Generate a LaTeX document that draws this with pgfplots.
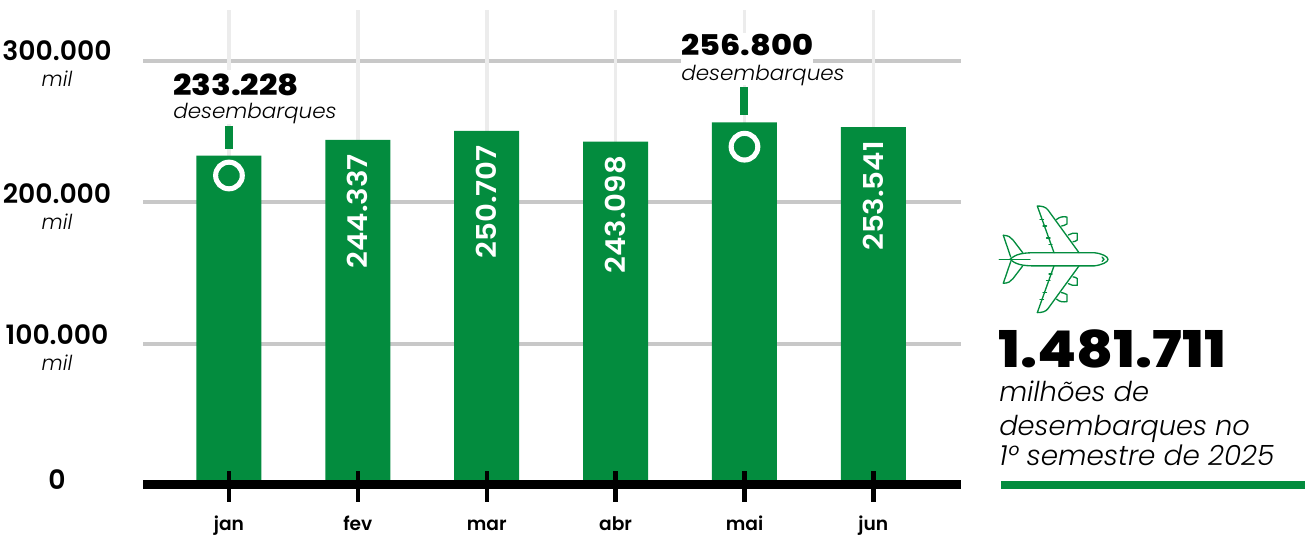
\documentclass[border=0pt]{standalone}
\usepackage{pgfplots}
\pgfplotsset{compat=1.18}
\usepackage{fontspec}
\setmainfont{Poppins}
\newfontfamily\light[ItalicFont={Poppins Light Italic}]{Poppins Light}
\newfontfamily\semi{Poppins SemiBold}
\newfontfamily\semilarga[FakeStretch=1.07]{Poppins SemiBold}
\newfontfamily\forte[FakeStretch=1.12]{Poppins ExtraBold}
\definecolor{verde}{HTML}{038C3E}
\definecolor{gridh}{HTML}{C8C8C8}
\definecolor{gridv}{HTML}{ECECEC}
\newcommand{\num}[1]{{\fontsize{20pt}{22pt}\semi #1}}
\newcommand{\mil}{{\fontsize{15.5pt}{17pt}\selectfont\light\itshape mil}}
\newcommand{\des}{{\fontsize{15.5pt}{17pt}\selectfont\light\addfontfeature{FakeStretch=1.04}\itshape desembarques}}
\begin{document}
\begin{tikzpicture}
\begin{axis}[
  at={(107.25pt,-363.375pt)}, anchor=south west,
  scale only axis, width=613.5pt, height=355.875pt,
  clip=false,
  xmin=-0.667, xmax=5.68, ymin=0, ymax=336525,
  axis x line*=bottom, axis y line=none,
  axis line style={draw=none},
  xtick={0,1,2,3,4,5},
  xticklabels={jan,fev,mar,abr,mai,jun},
  major tick length=0pt,
  xticklabel style={font=\fontsize{14pt}{16pt}\semi, anchor=base, yshift=-34.5pt},
]
% linhas horizontais
\addplot[gridh, line width=3pt] coordinates {(-0.667,100000) (5.68,100000)};
\addplot[gridh, line width=3pt] coordinates {(-0.667,200000) (5.68,200000)};
\addplot[gridh, line width=3pt] coordinates {(-0.667,300000) (5.68,300000)};
% linhas verticais
\addplot[gridv, line width=2.7pt] coordinates {(0,0) (0,336525)};
\addplot[gridv, line width=2.7pt] coordinates {(1,0) (1,336525)};
\addplot[gridv, line width=2.7pt] coordinates {(2,0) (2,336525)};
\addplot[gridv, line width=2.7pt] coordinates {(3,0) (3,336525)};
\addplot[gridv, line width=2.7pt] coordinates {(4,0) (4,336525)};
\addplot[gridv, line width=2.7pt] coordinates {(5,0) (5,336525)};
\addplot[ybar, bar width=48.75pt, fill=verde, draw=none] table {
x y
0 233228
1 244337
2 250707
3 243098
4 256800
5 253541
};
% eixo e marcas
\addplot[black, line width=7pt] coordinates {(-0.667,0) (5.68,0)};
\addplot[black, line width=3.3pt] coordinates {(0,-12400) (0,9450)};
\addplot[black, line width=3.3pt] coordinates {(1,-12400) (1,9450)};
\addplot[black, line width=3.3pt] coordinates {(2,-12400) (2,9450)};
\addplot[black, line width=3.3pt] coordinates {(3,-12400) (3,9450)};
\addplot[black, line width=3.3pt] coordinates {(4,-12400) (4,9450)};
\addplot[black, line width=3.3pt] coordinates {(5,-12400) (5,9450)};
% valores dentro das barras
\addplot[draw=none, nodes near coords, point meta=explicit symbolic,
  every node near coord/.style={rotate=90, anchor=east, xshift=-10.5pt, white,
    font=\fontsize{20.5pt}{22pt}\semilarga, inner sep=0pt}]
  table[meta=label] {
x y label
1 244337 244.337
2 250707 250.707
3 243098 243.098
5 253541 253.541
};
% marcadores jan e mai
\addplot[only marks, mark=o, white, mark size=10pt, line width=3.8pt] coordinates {(0,219149) (4,239574)};
\addplot[verde, line width=6pt] coordinates {(0,237943) (0,254255)};
\addplot[verde, line width=6pt] coordinates {(4,262057) (4,282128)};
\end{axis}
\begin{scope}[x=0.75pt,y=-0.75pt]
% rotulos do eixo y
\node[anchor=base] at (57,61) {\num{300.000}};
\node[anchor=base] at (57,87) {\mil};
\node[anchor=base] at (57,203) {\num{200.000}};
\node[anchor=base] at (57,229) {\mil};
\node[anchor=base] at (57,344) {\num{100.000}};
\node[anchor=base] at (57,370) {\mil};
\node[anchor=base] at (57,489) {\num{0}};
% destaques
\fill[white] (173,70) rectangle (302,98);
\fill[white] (173,98) rectangle (336,124);
\fill[white] (681,33) rectangle (813,64);
\fill[white] (681,64) rectangle (844,85);
\node[anchor=base west, inner sep=0pt] at (173,95) {\fontsize{21.7pt}{23pt}\forte 233.228};
\node[anchor=base west, inner sep=0pt] at (173,118) {\des};
\node[anchor=base west, inner sep=0pt] at (681,56) {\fontsize{21.4pt}{23pt}\forte 256.800};
\node[anchor=base west, inner sep=0pt] at (681,80) {\des};
% total
\node[anchor=base west, inner sep=0pt] at (998,367) {\fontsize{38pt}{40pt}\forte 1.481.711};
\node[anchor=base west, inner sep=0pt] at (999,401) {\fontsize{20.5pt}{22pt}\selectfont\light\itshape milhões de};
\node[anchor=base west, inner sep=0pt] at (999,435) {\fontsize{20.5pt}{22pt}\selectfont\light\itshape desembarques no};
\node[anchor=base west, inner sep=0pt] at (999,465) {\fontsize{20.9pt}{22pt}\selectfont\light\itshape 1° semestre de 2025};
\fill[verde] (1001,481) rectangle (1305,489);
% aviao
\begin{scope}[verde, line width=1pt, line join=round, line cap=round]
\draw (1010,259.3) .. controls (1016,254) and (1022,252.7) .. (1036,252.7) -- (1094,252.7)
  .. controls (1102,253.5) and (1108,256.5) .. (1108,259.3)
  .. controls (1108,262) and (1102,265) .. (1094,265.9) -- (1036,265.9)
  .. controls (1022,265.9) and (1016,264.5) .. (1010,259.3);
\draw (999.3,259.3) -- (1030,259.3);
\draw (1102,257) -- (1104,259.3) -- (1102,261.5);
\foreach \s in {1,-1}{
\begin{scope}[shift={(0,259.3)}, yscale=\s, shift={(0,-259.3)}]
\draw (1054,252.7) -- (1037.3,206) .. controls (1042,206) and (1046,207) .. (1048,210) -- (1079,252.7);
\draw (1056.5,219.5) .. controls (1060,216.5) and (1063,216.5) .. (1067,217) -- (1067,224) .. controls (1065,225.5) and (1063,225.5) .. (1061.5,226);
\draw (1068.3,235) .. controls (1071,233) and (1074,233) .. (1077.3,233.3) -- (1077.3,240) .. controls (1076,241.5) and (1074,241.5) .. (1073,241.7);
\draw (1003.3,235.3) .. controls (1008,235.5) and (1011,237) .. (1013,240) -- (1022.7,252.7);
\draw (1003.3,235.3) -- (1010.7,257);
\draw (1040,219.3) -- (1043.5,219.3);
\draw (1043,226) -- (1046.5,226);
\draw (1046.5,238) -- (1050,238);
\draw (1049,244.5) -- (1052,244.5);
\end{scope}}
\end{scope}
\end{scope}
\pgfresetboundingbox
\path[use as bounding box] (0,0) rectangle (979.5pt,-401.25pt);
\end{tikzpicture}
\end{document}
